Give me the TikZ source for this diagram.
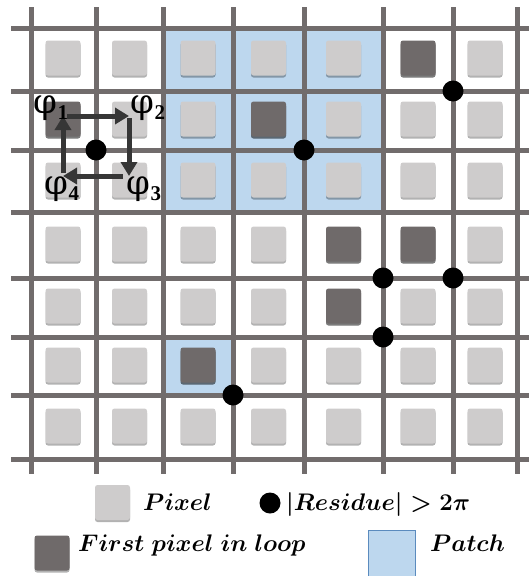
\RequirePackage{fix-cm}
\documentclass[tikz,border=0pt]{standalone}
\usepackage{amsmath}
\usepackage{fontspec}
\newfontfamily\phifont{DejaVu Serif}
\newfontfamily\subfont{Liberation Serif}
\usetikzlibrary{arrows.meta,shadows}
\definecolor{gridc}{HTML}{716C6C}
\definecolor{pixc}{HTML}{CECCCC}
\definecolor{darkc}{HTML}{6F6A6A}
\definecolor{patchc}{HTML}{BDD7EE}
\definecolor{patchb}{HTML}{5B8BBE}
\definecolor{arrc}{HTML}{363636}
\tikzset{
  pix/.style={rectangle,rounded corners=2.5pt,minimum size=35pt,inner sep=0pt,fill=pixc,
    drop shadow={shadow xshift=0pt,shadow yshift=-2pt,opacity=0.3,fill=black}},
  darkpix/.style={pix,fill=darkc},
  cell 1-0/.style={darkpix},
  cell 1-3/.style={darkpix},
  cell 0-5/.style={darkpix},
  cell 3-4/.style={darkpix},
  cell 3-5/.style={darkpix},
  cell 4-4/.style={darkpix},
  cell 5-2/.style={darkpix},
  res/.style={circle,fill=black,minimum size=21pt,inner sep=0pt},
  gridline/.style={draw=gridc,line width=5pt},
  patch/.style={fill=patchc,draw=patchb,line width=0.6pt},
  looparrow/.style={draw=arrc,line width=5pt,-{Triangle[length=14pt,width=16pt]}},
  philabel/.style={inner sep=0pt,font=\fontsize{34}{34}\selectfont\phifont},
  legtext/.style={inner sep=0pt,anchor=base west,font=\fontsize{24}{28}\selectfont},
}
\newcommand{\phisub}[1]{φ\raisebox{-6pt}{\subfont\fontsize{21}{21}\selectfont\bfseries #1}}
\begin{document}
\begin{tikzpicture}[x=1pt,y=-1pt]
\path[use as bounding box] (0,0) rectangle (529,576);
% patches
\path[patch] (163,28) rectangle (381,212);
\path[patch] (163,337) rectangle (233,395);
% grid
\foreach \x in {31,96,163,233,304,383,453,517}
  \draw[gridline] (\x,7) -- (\x,474);
\foreach \y in {28,91,150,212,278,337,395,459}
  \draw[gridline] (11,\y) -- (529,\y);
% pixels
\foreach \cy [count=\r from 0] in {58,119,180,244,306,365,426}
  \foreach \cx [count=\c from 0] in {63,129.5,198,268.5,343.5,418,485}
    \node[pix, cell \r-\c/.try] (p-\r-\c) at (\cx,\cy) {};
% residues
\node[res] (d1) at (96,150) {};
\node[res] (d2) at (304,150) {};
\node[res] (d3) at (453,91) {};
\node[res] (d4) at (383,278) {};
\node[res] (d5) at (453,278) {};
\node[res] (d6) at (383,337) {};
\node[res] (d7) at (233,395) {};
% loop
\coordinate (c1) at (63,116);
\coordinate (c2) at (129,116);
\coordinate (c3) at (129,176);
\coordinate (c4) at (63,176);
\draw[looparrow,shorten <=4pt] (c1) -- (c2);
\draw[looparrow,shorten <=2pt] (c2) -- (c3);
\draw[looparrow,shorten <=6pt] (c3) -- (c4);
\draw[looparrow,shorten <=3pt] (c4) -- (c1);
\node[philabel] (f1) at (51,108) {\phisub{1}};
\node[philabel] (f2) at (148,108) {\phisub{2}};
\node[philabel] (f3) at (144,189) {\phisub{3}};
\node[philabel] (f4) at (62,189) {\phisub{4}};
% legend
\node[pix] (lpix) at (112.5,502.5) {};
\node[legtext] (tpix) at (143,510) {$\boldsymbol{Pixel}$};
\node[res] (lres) at (270,503) {};
\node[legtext] (tres) at (286,510) {$\boldsymbol{|Residue| > 2\pi}$};
\node[darkpix] (ldark) at (52,553) {};
\node[legtext] (tdark) at (78,551) {$\boldsymbol{First\ pixel\ in\ loop}$};
\path[patch] (368,530) rectangle (415,578);
\node[legtext] (tpatch) at (430,551) {$\boldsymbol{Patch}$};
\end{tikzpicture}
\end{document}
